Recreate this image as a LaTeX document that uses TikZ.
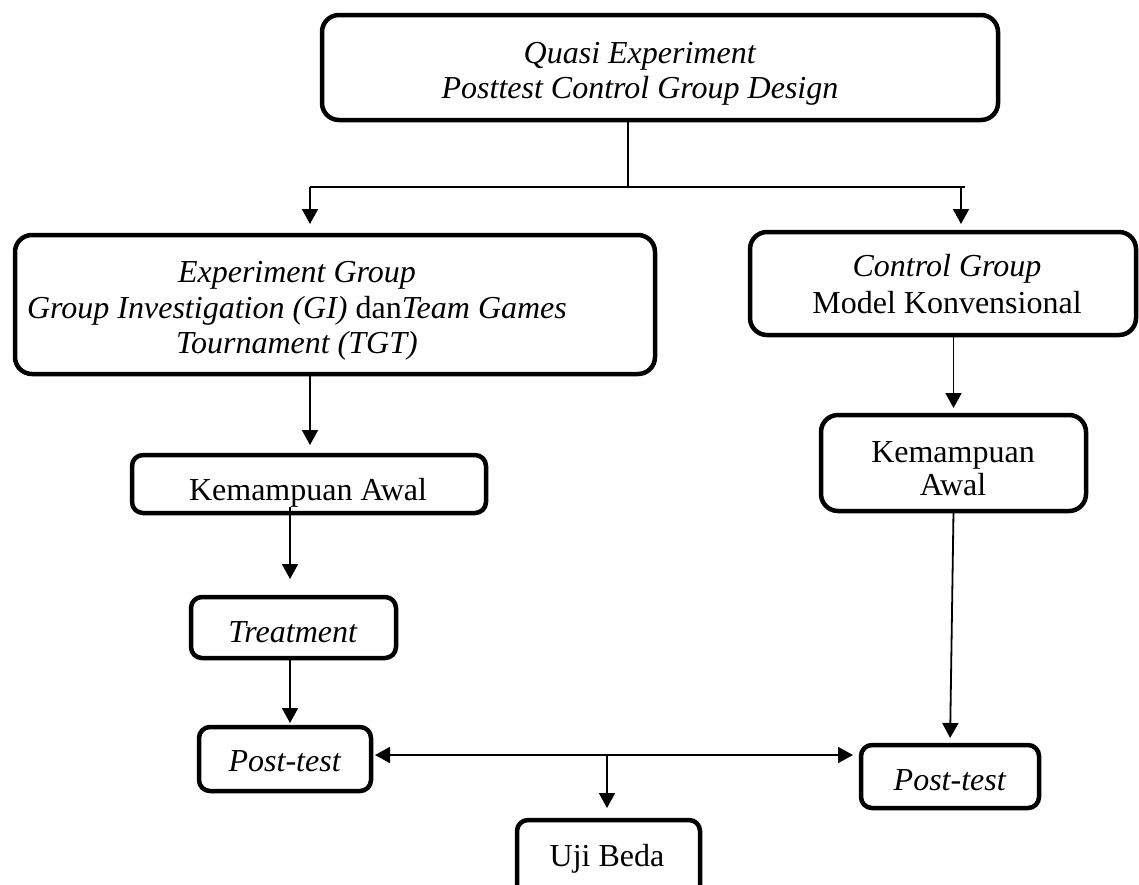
\documentclass[tikz,border=0pt]{standalone}
\usepackage{fontspec}
\setmainfont{Liberation Serif}
\usetikzlibrary{arrows.meta}
\tikzset{
  bigbox/.style={draw, line width=4.5pt, rounded corners=17pt, inner sep=0pt, outer sep=0pt},
  smallbox/.style={draw, line width=4.5pt, rounded corners=11pt, inner sep=0pt, outer sep=0pt},
  conn/.style={line width=1.8pt},
  arr/.style={conn, -{Triangle[length=15pt,width=16pt]}},
  darr/.style={conn, {Triangle[length=15pt,width=16pt]}-{Triangle[length=15pt,width=16pt]}},
  txt/.style={inner sep=0pt, outer sep=0pt, anchor=base, font=\fontsize{32}{35.5}\selectfont}
}
\begin{document}
\begin{tikzpicture}[x=1pt,y=-1pt]
\useasboundingbox (0,0) rectangle (1139,884);
\fill[white] (0,0) rectangle (1139,884);
\clip (0,0) rectangle (1139,884);

% boxes
\node[bigbox, minimum width=676pt, minimum height=105pt] (top) at (660,67.5) {};
\node[bigbox, minimum width=640pt, minimum height=139pt] (exp) at (335,304.5) {};
\node[bigbox, minimum width=386pt, minimum height=103pt] (ctrl) at (943,283.5) {};
\node[smallbox, minimum width=354pt, minimum height=58pt] (kaL) at (309,484) {};
\node[bigbox, minimum width=265pt, minimum height=96pt] (kaR) at (953.5,463) {};
\node[smallbox, minimum width=205pt, minimum height=61pt] (treat) at (293.5,627.5) {};
\node[smallbox, minimum width=172pt, minimum height=64pt] (ptL) at (285,759) {};
\node[smallbox, minimum width=178pt, minimum height=63pt] (ptR) at (950,776.5) {};
\node[smallbox, minimum width=183pt, minimum height=80pt] (uji) at (608.5,860) {};

% texts
\node[txt] (top1) at (640,63) {\textit{Quasi Experiment}};
\node[txt] (top2) at (640,98) {\textit{Posttest Control Group Design}};
\node[txt] (exp1) at (297,282) {\textit{Experiment Group}};
\node[txt] (exp2) at (297,318) {\textit{Group Investigation (GI)} dan\textit{Team Games}};
\node[txt] (exp3) at (297,353) {\textit{Tournament (TGT)}};
\node[txt] (ctrl1) at (947,276) {\textit{Control Group}};
\node[txt] (ctrl2) at (947,313) {Model Konvensional};
\node[txt] (kaL1) at (308,500) {Kemampuan Awal};
\node[txt] (kaR1) at (953,462) {Kemampuan};
\node[txt] (kaR2) at (953,495) {Awal};
\node[txt] (treat1) at (293,642) {\textit{Treatment}};
\node[txt] (ptL1) at (285,771) {\textit{Post-test}};
\node[txt] (ptR1) at (950,790) {\textit{Post-test}};
\node[txt] (uji1) at (607,866) {Uji Beda};

% connector coordinates
\coordinate (j) at (628,187);
\coordinate (jl) at (310,187);
\coordinate (jr) at (965,187);
\coordinate (ar) at (961,187);
\coordinate (c1) at (290,507);
\coordinate (h) at (607,755);

% connectors
\draw[conn] (j |- top.south) -- (j);
\draw[conn] (jl) -- (jr);
\draw[arr, shorten >=11pt] (jl) -- (jl |- exp.north);
\draw[arr, shorten >=8pt] (ar) -- (ar |- ctrl.north);
\draw[arr, shorten >=10pt] (jl |- exp.south) -- (jl |- kaL.north);
\draw[arr, shorten >=18pt] (c1) -- (c1 |- treat.north);
\draw[arr, shorten >=4pt] (c1 |- treat.south) -- (c1 |- ptL.north);
\draw[darr, shorten <=4pt, shorten >=8pt] (ptL.east |- h) -- (ptR.west |- h);
\draw[arr, shorten >=12pt] (h) -- (h |- uji.north);
\draw[arr, shorten >=7pt] (kaR.north |- ctrl.south) -- (kaR.north);
\draw[arr, shorten >=7pt] (kaR.south) -- (ptR.north);
\end{tikzpicture}
\end{document}
